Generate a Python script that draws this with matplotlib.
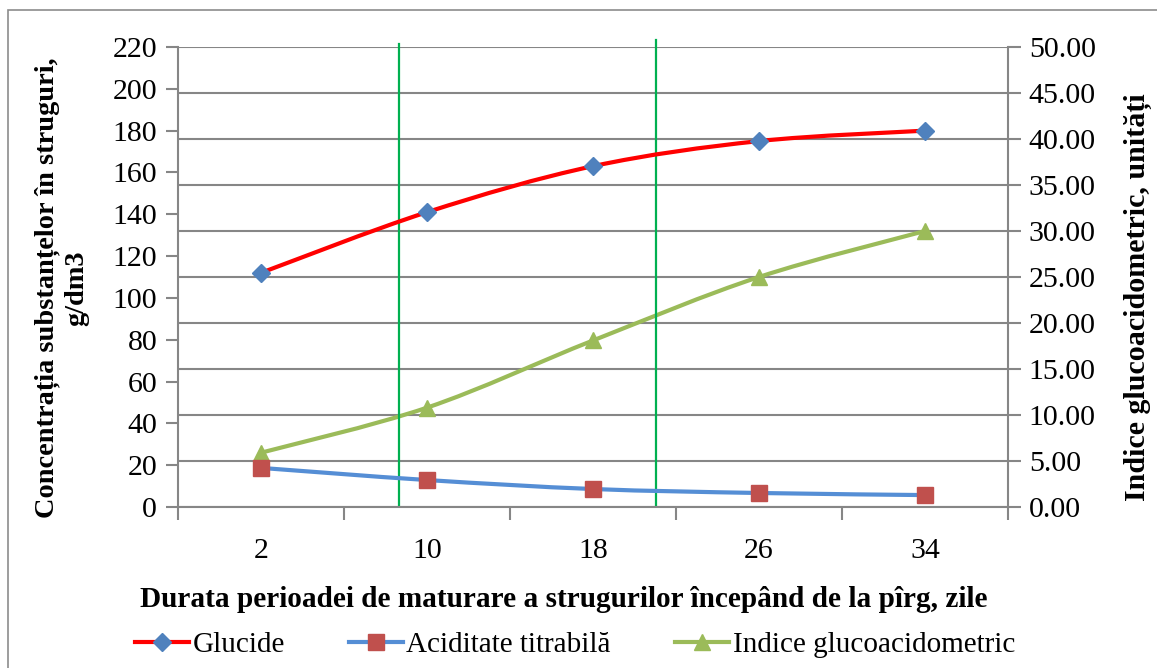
import matplotlib
matplotlib.use("Agg")
import numpy as np
import matplotlib.pyplot as plt
from matplotlib.path import Path
from matplotlib.patches import PathPatch, Rectangle
from matplotlib.lines import Line2D

plt.rcParams['font.family'] = ['Liberation Serif', 'DejaVu Serif']

zile = ['2', '10', '18', '26', '34']
glucide = [112, 141, 163, 175, 180]
aciditate = [18.7, 12.9, 8.6, 6.7, 5.7]
indice = [5.9, 10.8, 18.1, 25.0, 30.0]
# green vertical marks between categories (category index units)
linii_verzi = [0.83, 2.38]

GRID = '#868686'
W, H = 1157, 668


def smooth_path(xs, ys):
    # excel style smooth line: cubic bezier, control = neighbours / 6
    p = np.column_stack([xs, ys]).astype(float)
    verts = [p[0]]
    codes = [Path.MOVETO]
    n = len(p)
    for i in range(n - 1):
        prev = p[i - 1] if i > 0 else p[i]
        nxt = p[i + 2] if i + 2 < n else p[i + 1]
        c1 = p[i] + (p[i + 1] - prev) / 6
        c2 = p[i + 1] - (nxt - p[i]) / 6
        verts += [c1, c2, p[i + 1]]
        codes += [Path.CURVE4] * 3
    return Path(verts, codes)


fig = plt.figure(figsize=(W / 100, H / 100), dpi=100)
fig.patches.append(Rectangle((8 / W, -0.01), 1.0, (H - 10) / H + 0.01,
                             transform=fig.transFigure, fill=False,
                             edgecolor='#8c8c8c', lw=1.2))
ax = fig.add_axes([178 / W, (H - 507) / H, 830 / W, 460 / H])
ax2 = ax.twinx()

x = np.arange(len(zile))
ax.set_xlim(-0.5, len(zile) - 0.5)
ax.set_ylim(0, 220)
ax2.set_ylim(0, 50)

ax.set_yticks(np.arange(0, 221, 20))
ax2.set_yticks(np.arange(0, 50.1, 5))
ax2.set_yticklabels(['%.2f' % v for v in np.arange(0, 50.1, 5)])
ax.set_xticks(x)
ax.set_xticklabels(zile)
ax.set_xticks(np.arange(-0.5, len(zile), 1), minor=True)

ax2.yaxis.grid(True, color=GRID, lw=1.5)
ax2.set_axisbelow(True)
ax.set_zorder(ax2.get_zorder() + 1)
ax.patch.set_visible(False)

for a in (ax, ax2):
    for s in a.spines.values():
        s.set_visible(False)
    a.tick_params(axis='both', labelsize=21.5, color=GRID, width=1.5, length=9)
ax.spines['left'].set_visible(True)
ax.spines['left'].set_color(GRID)
ax.spines['left'].set_linewidth(1.5)
ax.spines['bottom'].set_visible(True)
ax.spines['bottom'].set_color(GRID)
ax.spines['bottom'].set_linewidth(1.5)
ax2.spines['right'].set_visible(True)
ax2.spines['right'].set_color(GRID)
ax2.spines['right'].set_linewidth(1.5)
ax.tick_params(axis='x', which='major', length=0, pad=22)
ax.tick_params(axis='x', which='minor', length=9, color=GRID, width=1.5)
ax.tick_params(axis='y', pad=6)
ax2.tick_params(axis='y', pad=6)

# green vertical lines
ax.axvline(linii_verzi[0], ymin=0.005, ymax=1.007, color='#00B050', lw=1.6,
           clip_on=False, zorder=1)
ax.axvline(linii_verzi[1], ymin=0.005, ymax=1.015, color='#00B050', lw=1.6,
           clip_on=False, zorder=1)

# series
ax.add_patch(PathPatch(smooth_path(x, aciditate), fill=False,
                       edgecolor='#558ED5', lw=3, capstyle='round', zorder=3))
ax.plot(x, aciditate, ls='none', marker='s', ms=12, mfc='#C0504D',
        mec='#C0504D', zorder=5)
ax.add_patch(PathPatch(smooth_path(x, glucide), fill=False,
                       edgecolor='#FF0000', lw=3, capstyle='round', zorder=3))
ax.plot(x, glucide, ls='none', marker='D', ms=9, mfc='#4F81BD',
        mec='#4F81BD', zorder=5)
ax2.add_patch(PathPatch(smooth_path(x, indice), fill=False,
                        edgecolor='#9BBB59', lw=3, capstyle='round', zorder=3))
ax2.plot(x, indice, ls='none', marker='^', ms=12, mfc='#9BBB59',
         mec='#9BBB59', zorder=5)
ax2.set_xlim(-0.5, len(zile) - 0.5)

# axis titles
fig.text(62 / W, 1 - 288 / H, 'Concentrația substanțelor în struguri,\ng/dm3',
         fontsize=20.4, fontweight='bold', rotation=90, ha='center',
         va='center', multialignment='center', linespacing=1.2)
fig.text(1138 / W, 1 - 297 / H, 'Indice glucoacidometric, unități',
         fontsize=21.6, fontweight='bold', rotation=90, ha='center',
         va='center')
fig.text(564 / W, 1 - 607 / H,
         'Durata perioadei de maturare a strugurilor începând de la pîrg, zile',
         fontsize=21.1, fontweight='bold', ha='center', va='baseline')

handles = [
    Line2D([], [], color='#FF0000', lw=3, marker='D', ms=9,
           mfc='#4F81BD', mec='#4F81BD'),
    Line2D([], [], color='#558ED5', lw=3, marker='s', ms=12,
           mfc='#C0504D', mec='#C0504D'),
    Line2D([], [], color='#9BBB59', lw=3, marker='^', ms=12,
           mfc='#9BBB59', mec='#9BBB59'),
]
fig.legend(handles, ['Glucide', 'Aciditate titrabilă', 'Indice glucoacidometric'],
           loc='center', bbox_to_anchor=(575 / W, 1 - 645 / H), ncol=3,
           frameon=False, fontsize=21, handlelength=1.85, handletextpad=0.12,
           columnspacing=2.2)

fig.savefig('out.png', dpi=100)
